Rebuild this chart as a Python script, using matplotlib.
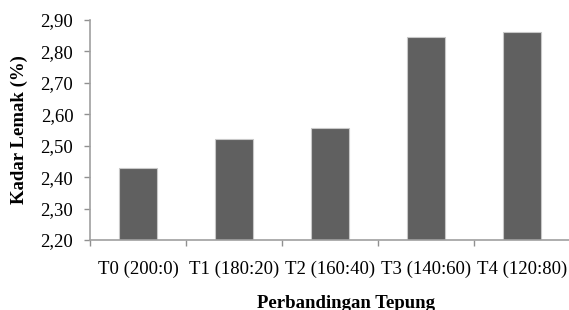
import numpy as np
import matplotlib.pyplot as plt
from matplotlib.ticker import FixedLocator, FuncFormatter

# data
kategori = ['T0 (200:0)', 'T1 (180:20)', 'T2 (160:40)', 'T3 (140:60)', 'T4 (120:80)']
kadar_lemak = [2.43, 2.52, 2.555, 2.845, 2.862]
y_ticks = [2.20, 2.30, 2.40, 2.50, 2.60, 2.70, 2.80, 2.90]

plt.rcParams['font.family'] = ['Liberation Serif', 'DejaVu Serif']

fig = plt.figure(figsize=(5.69, 3.10), dpi=100)
ax = fig.add_axes([90 / 569, 1 - 240 / 310, 480 / 569, 220 / 310])

x = np.arange(len(kategori))
ax.bar(x, kadar_lemak, width=0.4, bottom=0, color='#606060',
       edgecolor='#c8c8c8', linewidth=0.8, zorder=2)

ax.set_ylim(2.20, 2.90)
ax.set_xlim(-0.5, len(kategori) - 0.5)
ax.set_yticks(y_ticks)
ax.yaxis.set_major_formatter(FuncFormatter(lambda v, p: ('%.2f' % v).replace('.', ',')))

ax.set_xticks(x)
ax.set_xticklabels(kategori)
ax.xaxis.set_minor_locator(FixedLocator(np.arange(-0.5, len(kategori), 1.0)))
ax.tick_params(axis='x', which='major', length=0, pad=15, labelsize=13.5)
ax.tick_params(axis='x', which='minor', length=4, width=1, color='#909090', direction='out')
ax.tick_params(axis='y', length=4, width=1, color='#909090', pad=8, labelsize=13.5)

for s in ['top', 'right']:
    ax.spines[s].set_visible(False)
for s in ['left', 'bottom']:
    ax.spines[s].set_color('#a0a0a0')
    ax.spines[s].set_linewidth(1.2)

ax.set_ylabel('Kadar Lemak (%)', fontsize=13.5, fontweight='bold', labelpad=9)
fig.text(346 / 569, 1 - 303 / 310, 'Perbandingan Tepung', fontsize=13.5,
         fontweight='bold', ha='center', va='center')

fig.savefig('out.png', dpi=100)
